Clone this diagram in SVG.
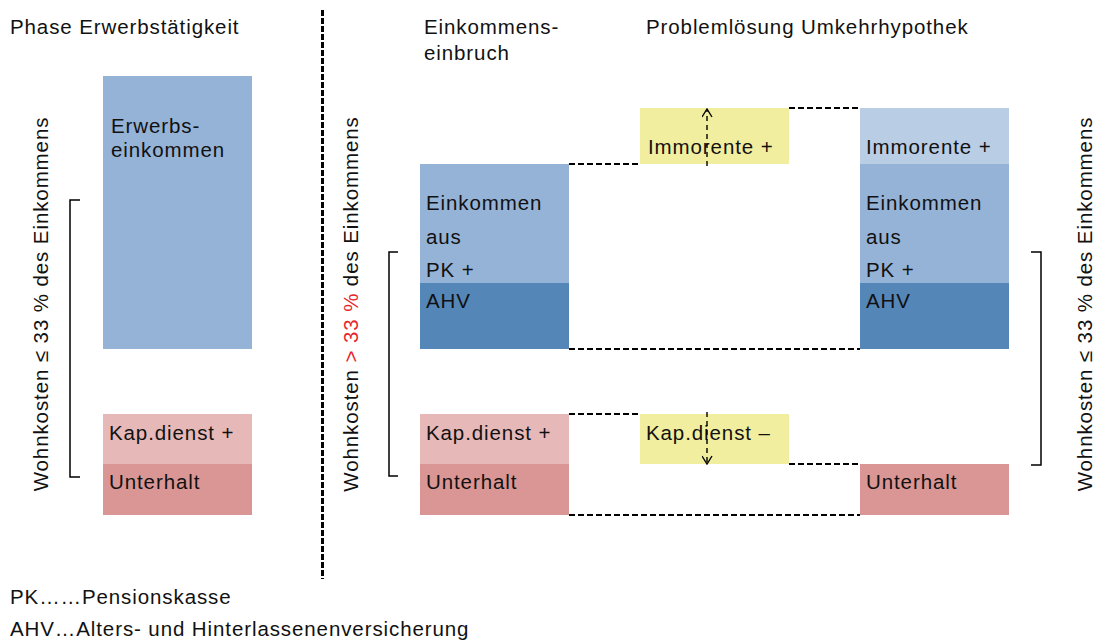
<svg xmlns="http://www.w3.org/2000/svg" width="1101" height="641" viewBox="0 0 1101 641">
<style>
text{font-family:"Liberation Sans",Arial,sans-serif;font-size:20.5px;letter-spacing:0.9px;fill:#111}
.lb{fill:#95b3d7}.db{fill:#5586b8}.pl{fill:#e6b9b8}.pd{fill:#da9694}.ye{fill:#f2ee9f}.li{fill:#b9cde5}
.dash{stroke:#000;stroke-width:2;stroke-dasharray:6 3;fill:none}
.arr{stroke:#000;stroke-width:1.4;stroke-dasharray:5 4;fill:none}
.br{stroke:#000;stroke-width:1.5;fill:none}
.red{fill:#e8262b}
</style>
<defs>
<marker id="chev" viewBox="0 0 10 11" refX="9" refY="5.5" markerWidth="10" markerHeight="11" markerUnits="userSpaceOnUse" orient="auto">
<path d="M1 0.5 L9 5.5 L1 10.5" stroke="#000" stroke-width="1.4" fill="none"/>
</marker>
</defs>
<text x="10" y="34">Phase Erwerbstätigkeit</text>
<text x="424" y="34">Einkommens-</text>
<text x="424" y="60">einbruch</text>
<text x="646" y="34">Problemlösung Umkehrhypothek</text>
<line x1="322.5" y1="10" x2="322.5" y2="579" stroke="#000" stroke-width="3" stroke-dasharray="6 2"/>
<g id="left-erwerb"><rect class="lb" x="103" y="76" width="149" height="273"/><text x="111" y="133">Erwerbs-</text><text x="111" y="157">einkommen</text></g>
<g id="left-kap"><rect class="pl" x="103" y="414" width="149" height="50"/><text x="109" y="440">Kap.dienst +</text></g>
<g id="left-unterhalt"><rect class="pd" x="103" y="464" width="149" height="51"/><text x="109" y="489">Unterhalt</text></g>
<g id="mid-pk"><rect class="lb" x="420" y="164" width="149" height="119"/><text x="426" y="210">Einkommen</text><text x="426" y="244">aus</text><text x="426" y="277">PK +</text></g>
<g id="mid-ahv"><rect class="db" x="420" y="283" width="149" height="66"/><text x="426" y="308">AHV</text></g>
<g id="mid-kap"><rect class="pl" x="420" y="414" width="149" height="50"/><text x="426" y="440">Kap.dienst +</text></g>
<g id="mid-unterhalt"><rect class="pd" x="420" y="464" width="149" height="51"/><text x="426" y="489">Unterhalt</text></g>
<g id="y-immo"><rect class="ye" x="640" y="108" width="149" height="56"/><text x="648" y="154">Immorente +</text></g>
<g id="y-kap"><rect class="ye" x="640" y="414" width="149" height="50"/><text x="646" y="440">Kap.dienst –</text></g>
<g id="r-immo"><rect class="li" x="860" y="108" width="149" height="56"/><text x="866" y="154">Immorente +</text></g>
<g id="r-pk"><rect class="lb" x="860" y="164" width="149" height="119"/><text x="866" y="210">Einkommen</text><text x="866" y="244">aus</text><text x="866" y="277">PK +</text></g>
<g id="r-ahv"><rect class="db" x="860" y="283" width="149" height="66"/><text x="866" y="308">AHV</text></g>
<g id="r-unterhalt"><rect class="pd" x="860" y="464" width="149" height="51"/><text x="866" y="489">Unterhalt</text></g>
<g id="connectors">
<path class="dash" d="M569 164H640"/>
<path class="dash" d="M789 108H860"/>
<path class="dash" d="M569 349H860"/>
<path class="dash" d="M569 414H640"/>
<path class="dash" d="M789 464H860"/>
<path class="dash" d="M569 515H860"/>
<path class="arr" d="M707 166V109" marker-end="url(#chev)"/>
<path class="arr" d="M707 412V464" marker-end="url(#chev)"/>
</g>
<g id="brackets">
<path class="br" d="M80 200H70V477H80"/>
<path class="br" d="M398 252H389V476H398"/>
<path class="br" d="M1031 252H1041V465H1031"/>
</g>
<text transform="translate(48 304) rotate(-90)" text-anchor="middle">Wohnkosten ≤ 33 % des Einkommens</text>
<text transform="translate(358 304) rotate(-90)" text-anchor="middle">Wohnkosten <tspan class="red">&gt; 33 %</tspan> des Einkommens</text>
<text transform="translate(1092 304) rotate(-90)" text-anchor="middle">Wohnkosten ≤ 33 % des Einkommens</text>
<text x="10" y="604">PK……Pensionskasse</text>
<text x="10" y="636">AHV…Alters- und Hinterlassenenversicherung</text>
</svg>
